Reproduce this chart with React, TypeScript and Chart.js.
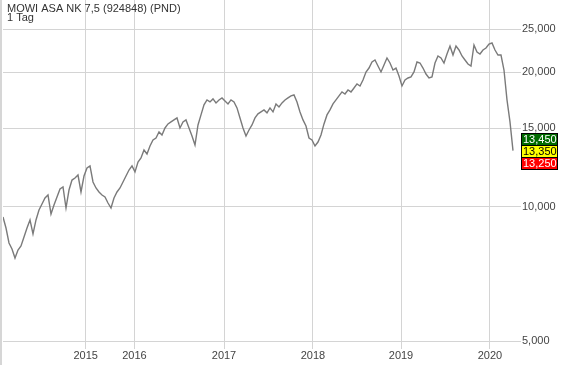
import React, { useEffect, useRef } from 'react';
import { Chart, registerables } from 'chart.js';

Chart.register(...registerables);

// Closing prices (PND), one reading every few trading days
const prices = [
  9480, 8955, 8290, 8040, 7670, 7995, 8165, 8550, 8955, 9335,
  8685, 9335, 9830, 10135, 10455, 10620, 9630, 10085, 10510, 10950,
  11065, 9930, 10895, 11470, 11590, 11770, 10785, 11710, 12210, 12335,
  11355, 11010, 10785, 10620, 10510, 10190, 9930, 10455, 10785, 11010,
  11355, 11710, 12080, 12335, 11960, 12590, 12850, 13390, 13120, 13670,
  14100, 14250, 14700, 14470, 15005, 15320, 15480, 15640, 15800, 15005,
  15480, 15640, 15005, 14395, 13740, 15240, 16050, 16900, 17340, 17160,
  17430, 17075, 17340, 17520, 17250, 16985, 17340, 17160, 16640, 15800,
  15005, 14395, 14850, 15240, 15800, 16135, 16300, 16470, 16220, 16640,
  16300, 16985, 16725, 17075, 17340, 17520, 17700, 17790, 17160, 16300,
  15640, 15160, 14250, 14100, 13670, 13955, 14470, 15320, 16050, 16470,
  16985, 17340, 17700, 18070, 17880, 18255, 18070, 18440, 18830, 18635,
  19220, 20030, 20440, 21090, 21310, 20650, 20030, 20760, 21530, 20980,
  20235, 20440, 19620, 18635, 19220, 19420, 19520, 20030, 21090, 20980,
  20440, 19820, 19420, 19520, 20980, 21750, 21530, 20980, 21975, 22900,
  21860, 22900, 22435, 21750, 21310, 20870, 20650, 23020, 22200, 21975,
  22435, 22670, 23140, 23260, 22435, 21860, 21860, 20235, 17340, 15480,
  13350,
];

// Year boundaries expressed as position in the price series
const yearLabels = ['2015', '2016', '2017', '2018', '2019', '2020'];
const yearTickIndex = [27.57, 43.83, 73.67, 103.33, 132.67, 162.33];

const yTickValues = [5000, 10000, 15000, 20000, 25000];

const flagValues = [13450, 13350, 13250];
const flagColors = ['#006a00', '#ffff00', '#ff0000'];
const flagTextColors = ['#ffffff', '#000000', '#ffffff'];

const titleLines = ['MOWI ASA NK 7,5 (924848) (PND)', '1 Tag'];

const FONT = "'Liberation Sans', Arial, Helvetica, sans-serif";

const decor = {
  id: 'decor',
  afterDraw(chart: any) {
    const ctx = chart.ctx;
    const y = chart.scales.y;
    const area = chart.chartArea;
    ctx.save();
    // left border strip
    ctx.fillStyle = '#d6d6d6';
    ctx.fillRect(0, 0, 2, chart.height);
    // title
    ctx.fillStyle = '#333333';
    ctx.font = `11px ${FONT}`;
    ctx.textBaseline = 'alphabetic';
    ctx.textAlign = 'left';
    ctx.fillText(titleLines[0], 7, 12);
    ctx.fillText(titleLines[1], 7, 21);
    // price flags
    const h = 12;
    const w = 36;
    const x0 = area.right + 6;
    const midY = y.getPixelForValue(flagValues[1]);
    flagValues.forEach((v, i) => {
      const top = Math.round(midY - h / 2 + (i - 1) * h) + 0.5;
      ctx.fillStyle = flagColors[i];
      ctx.fillRect(x0 + 0.5, top, w, h);
      ctx.strokeStyle = '#000000';
      ctx.lineWidth = 1;
      ctx.strokeRect(x0 + 0.5, top, w, h);
      ctx.fillStyle = flagTextColors[i];
      ctx.textBaseline = 'middle';
      ctx.fillText(v.toLocaleString('en-US'), x0 + 2, top + h / 2 + 0.5);
    });
    ctx.restore();
  },
};

export default function App() {
  const ref = useRef<HTMLCanvasElement | null>(null);

  useEffect(() => {
    if (!ref.current) return;
    const chart = new Chart(ref.current, {
      type: 'line',
      data: {
        datasets: [
          {
            data: prices.map((v, i) => ({ x: i, y: v })),
            borderColor: '#7a7a7a',
            borderWidth: 1.4,
            pointRadius: 0,
            tension: 0,
            fill: false,
          },
        ],
      },
      options: {
        animation: false,
        responsive: false,
        devicePixelRatio: 1,
        layout: { padding: { left: 3, top: 0, right: 0, bottom: 0 } },
        plugins: { legend: { display: false }, tooltip: { enabled: false } },
        scales: {
          x: {
            type: 'linear',
            min: 0,
            max: 170.67,
            border: { display: false },
            grid: { color: '#d4d4d4', lineWidth: 1, tickLength: 3, drawTicks: true },
            ticks: {
              autoSkip: false,
              maxRotation: 0,
              minRotation: 0,
              padding: 0,
              color: '#444444',
              font: { family: FONT, size: 11 },
              callback: (_v: any, i: number) => yearLabels[i],
            },
            afterBuildTicks: (s: any) => {
              s.ticks = yearTickIndex.map((v) => ({ value: v }));
            },
            afterFit: (s: any) => {
              s.height = 19;
              s.paddingLeft = 0;
              s.paddingRight = 0;
            },
          },
          y: {
            type: 'logarithmic',
            position: 'right',
            min: 4873,
            max: 29034,
            border: { display: false },
            grid: { color: '#d4d4d4', lineWidth: 1, tickLength: 6, drawTicks: true },
            ticks: {
              padding: 1,
              color: '#444444',
              font: { family: FONT, size: 11 },
              callback: (v: any) => Number(v).toLocaleString('en-US'),
            },
            afterBuildTicks: (s: any) => {
              s.ticks = yTickValues.map((v) => ({ value: v }));
            },
            afterFit: (s: any) => {
              s.width = 52;
              s.paddingTop = 0;
              s.paddingBottom = 0;
            },
          },
        },
      },
      plugins: [decor],
    } as any);
    return () => chart.destroy();
  }, []);

  return (
    <div style={{ position: 'fixed', left: 0, top: 0, width: 567, height: 365, background: '#ffffff' }}>
      <canvas ref={ref} width={567} height={365} style={{ display: 'block', width: 567, height: 365 }} />
    </div>
  );
}
